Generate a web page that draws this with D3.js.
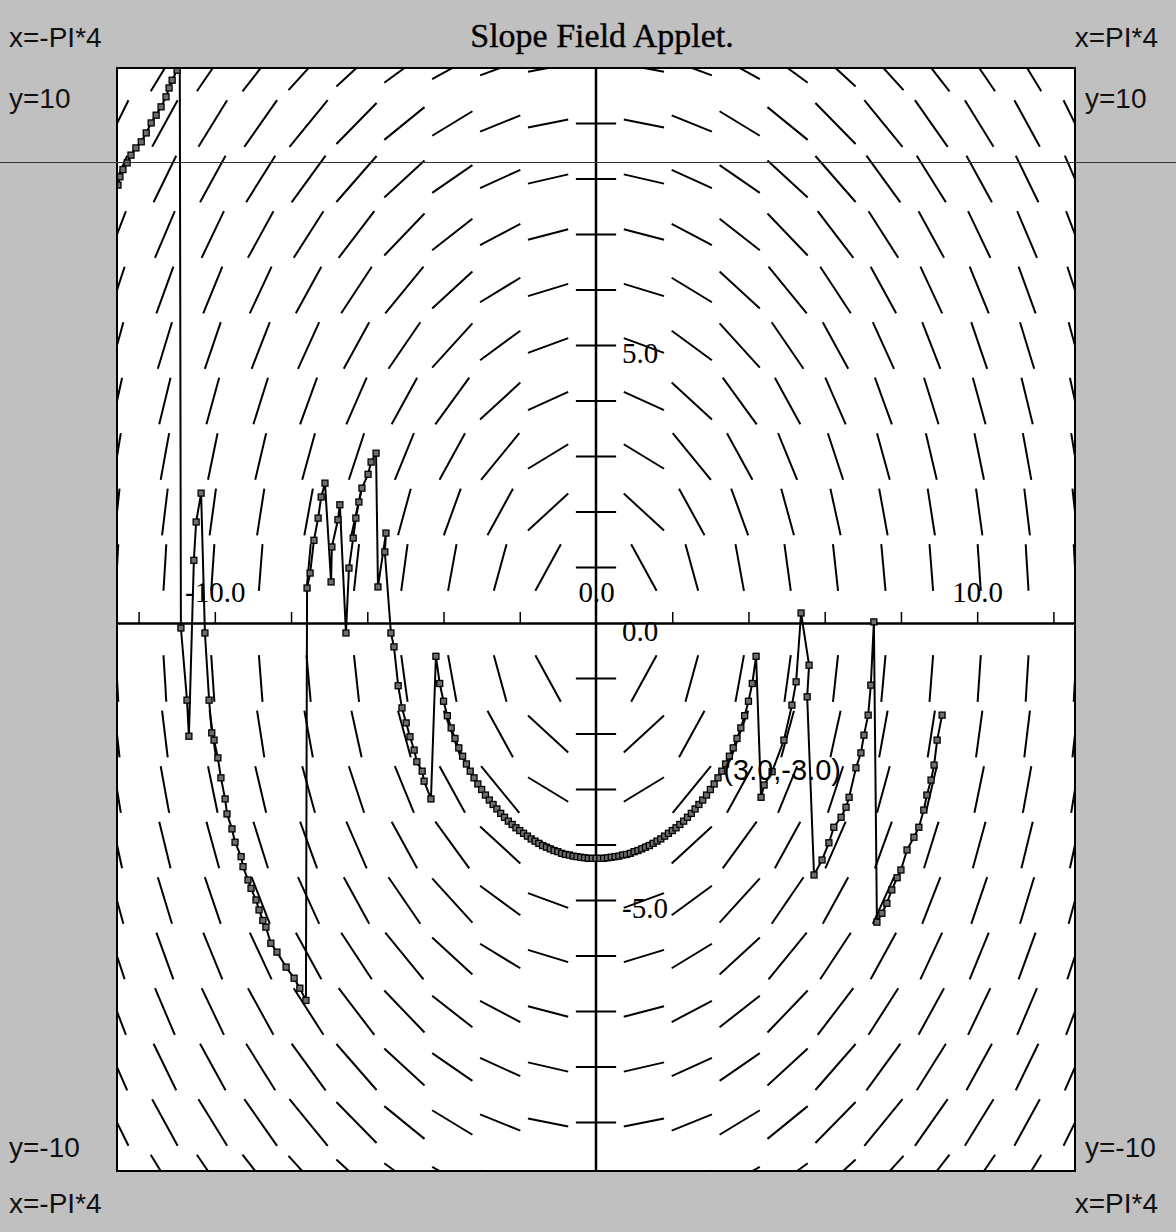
<!DOCTYPE html>
<html>

<head>
  <meta charset='utf-8'>
  <style>
    body { margin: 0; background: #c0c0c0; }
    svg { display: block; }
  </style>
  <script src='https://cdn.jsdelivr.net/npm/d3@7'></script>
</head>

<body>

  <script>

    let [width, height] = [1176, 1232]
    let PI = Math.PI

    // slope field dy/dx = -x/y, columns in steps of 0.4*PI, rows in whole units
    const fieldCols = [-10, -9, -8, -7, -6, -5, -4, -3, -2, -1, 0, 1, 2, 3, 4, 5, 6, 7, 8, 9, 10]
    const fieldRows = [-10, -9, -8, -7, -6, -5, -4, -3, -2, -1, 1, 2, 3, 4, 5, 6, 7, 8, 9, 10]
    const slope = (x, y) => -x / y

    const xTickVals = [-12, -10, -8, -6, -4, -2, 2, 4, 6, 8, 10, 12]
    const xLabelVals = [-10, 0, 10]
    const yLabelVals = [-5, 0, 5]

    const start = [3, -3]
    const startLabel = '(3.0,-3.0)'

    // solver output (left part, leaving the plot at top left)
    const leftBranch = [
      [-12.54, 7.89], [-12.49, 8.04], [-12.41, 8.17], [-12.30, 8.29], [-12.20, 8.43], [-12.07, 8.56],
      [-11.93, 8.67], [-11.80, 8.83], [-11.67, 9.01], [-11.54, 9.15], [-11.41, 9.30], [-11.28, 9.48],
      [-11.20, 9.64], [-11.12, 9.78], [-10.99, 9.96], [-10.92, 10.25],
      [-10.89, -0.09], [-10.73, -1.39], [-10.68, -2.04], [-10.55, 1.13], [-10.49, 1.82], [-10.36, 2.34],
      [-10.26, -0.18], [-10.15, -1.39], [-10.08, -1.98], [-10.02, -2.11],
      [-9.92, -2.43], [-9.84, -2.79], [-9.73, -3.17], [-9.68, -3.44], [-9.55, -3.71], [-9.47, -3.95],
      [-9.31, -4.21], [-9.26, -4.39], [-9.13, -4.63], [-9.05, -4.78], [-8.92, -4.99], [-8.84, -5.17],
      [-8.74, -5.36], [-8.66, -5.48], [-8.53, -5.77], [-8.37, -5.93], [-8.13, -6.20], [-7.92, -6.40],
      [-7.77, -6.58], [-7.61, -6.80],
      [-7.58, 0.63], [-7.50, 0.90], [-7.40, 1.49], [-7.29, 1.89], [-7.21, 2.27], [-7.11, 2.52],
      [-6.95, 0.74], [-6.93, 1.37], [-6.77, 1.86], [-6.72, 2.13], [-6.56, -0.18],
      [-6.48, 0.99], [-6.37, 1.53], [-6.30, 1.89], [-6.22, 2.18], [-6.14, 2.43], [-5.98, 2.68],
      [-5.90, 2.90], [-5.77, 3.06], [-5.72, 0.65], [-5.51, 1.62], [-5.54, 1.28], [-5.38, -0.18],
      [-5.30, -0.43], [-5.19, -1.13], [-5.09, -1.53], [-4.98, -1.80], [-4.88, -2.05], [-4.77, -2.29],
      [-4.70, -2.50], [-4.56, -2.67], [-4.51, -2.85], [-4.33, -3.17]
    ]

    // the smooth, densely marked arc through the start point
    const centralArc = [
      [-4.2, -0.60], [-4.1, -1.09], [-4.0, -1.41], [-3.9, -1.67], [-3.8, -1.89], [-3.7, -2.08],
      [-3.6, -2.25], [-3.5, -2.40], [-3.4, -2.54], [-3.3, -2.67], [-3.2, -2.79], [-3.1, -2.90],
      [-3.0, -3.00], [-2.9, -3.10], [-2.8, -3.19], [-2.7, -3.27], [-2.6, -3.35], [-2.5, -3.43],
      [-2.4, -3.50], [-2.3, -3.57], [-2.2, -3.63], [-2.1, -3.69], [-2.0, -3.74], [-1.9, -3.79],
      [-1.8, -3.84], [-1.7, -3.89], [-1.6, -3.93], [-1.5, -3.97], [-1.4, -4.01], [-1.3, -4.04],
      [-1.2, -4.07], [-1.1, -4.10], [-1.0, -4.12], [-0.9, -4.15], [-0.8, -4.17], [-0.7, -4.18],
      [-0.6, -4.20], [-0.5, -4.21], [-0.4, -4.22], [-0.3, -4.23], [-0.2, -4.24], [-0.1, -4.24],
      [0.0, -4.24], [0.1, -4.24], [0.2, -4.24], [0.3, -4.23], [0.4, -4.22], [0.5, -4.21],
      [0.6, -4.20], [0.7, -4.18], [0.8, -4.17], [0.9, -4.15], [1.0, -4.12], [1.1, -4.10],
      [1.2, -4.07], [1.3, -4.04], [1.4, -4.01], [1.5, -3.97], [1.6, -3.93], [1.7, -3.89],
      [1.8, -3.84], [1.9, -3.79], [2.0, -3.74], [2.1, -3.69], [2.2, -3.63], [2.3, -3.57],
      [2.4, -3.50], [2.5, -3.43], [2.6, -3.35], [2.7, -3.27], [2.8, -3.19], [2.9, -3.10],
      [3.0, -3.00], [3.1, -2.90], [3.2, -2.79], [3.3, -2.67], [3.4, -2.54], [3.5, -2.40],
      [3.6, -2.25], [3.7, -2.08], [3.8, -1.89], [3.9, -1.67], [4.0, -1.41], [4.1, -1.09], [4.2, -0.60]
    ]

    const rightBranch = [
      [4.33, -3.14], [4.41, -2.92], [4.62, -2.68], [4.93, -2.11], [5.14, -1.48], [5.25, -1.06],
      [5.38, 0.18], [5.59, -0.76], [5.54, -1.33],
      [5.72, -4.54], [5.93, -4.27], [6.11, -3.96], [6.24, -3.68], [6.43, -3.50], [6.56, -3.32],
      [6.64, -3.14], [6.82, -2.61], [6.95, -2.34], [7.03, -2.02], [7.14, -1.66], [7.21, -1.12], [7.29, 0.02],
      [7.37, -5.39], [7.50, -5.23], [7.63, -5.05], [7.76, -4.81], [7.90, -4.59], [8.00, -4.45],
      [8.16, -4.09], [8.34, -3.86], [8.47, -3.68], [8.60, -3.37], [8.68, -3.10], [8.79, -2.83],
      [8.87, -2.56], [8.95, -2.11], [9.08, -1.66]
    ]

    const solution = leftBranch.concat(centralArc, rightBranch)

    let plot = { left: 117, top: 68, right: 1075, bottom: 1171 }
    let x = d3.scaleLinear([-4 * PI, 4 * PI], [plot.left, plot.right])
    let y = d3.scaleLinear([-10, 10], [1178, plot.top])

    let svg = d3.select('body')
      .append('svg')
      .attr('width', width)
      .attr('height', height)

    svg.append('rect')
      .attr('width', width)
      .attr('height', height)
      .attr('fill', '#c0c0c0')

    svg.append('clipPath')
      .attr('id', 'clip')
      .append('rect')
      .attr('x', plot.left)
      .attr('y', plot.top)
      .attr('width', plot.right - plot.left)
      .attr('height', plot.bottom - plot.top)

    svg.append('rect')
      .attr('x', plot.left)
      .attr('y', plot.top)
      .attr('width', plot.right - plot.left)
      .attr('height', plot.bottom - plot.top)
      .attr('fill', '#fff')

    let inner = svg.append('g').attr('clip-path', 'url(#clip)')

    // slope segments, each clipped to a box a bit smaller than its cell
    let pxPerX = x(1) - x(0)
    let pxPerY = y(0) - y(1)
    let hw = 0.42 * (x(0.4 * PI) - x(0))
    let hh = 0.42 * pxPerY
    let field = []
    fieldRows.forEach(r => fieldCols.forEach(c => {
      let cx = c * 0.4 * PI
      let s = slope(cx, r) * pxPerY / pxPerX
      let dx = hw, dy = s * hw
      if (Math.abs(dy) > hh) { dy = hh * Math.sign(s); dx = hh / Math.abs(s) }
      field.push({ px: x(cx), py: y(r), dx, dy })
    }))

    inner.append('g')
      .attr('stroke', '#000')
      .attr('stroke-width', 2)
      .selectAll('line')
      .data(field)
      .enter()
      .append('line')
      .attr('x1', d => d.px - d.dx)
      .attr('y1', d => d.py + d.dy)
      .attr('x2', d => d.px + d.dx)
      .attr('y2', d => d.py - d.dy)

    // axes
    let xAxis = g => g
      .attr('transform', `translate(0,${y(0)})`)
      .call(d3.axisTop(x).tickValues(xTickVals).tickSize(11).tickSizeOuter(0).tickFormat(''))
      .call(g => g.select('.domain').attr('stroke', '#000').attr('stroke-width', 2.5))
      .call(g => g.selectAll('.tick line').attr('stroke', '#000').attr('stroke-width', 1.5))

    let xLabels = g => g
      .attr('transform', `translate(0,${y(0)})`)
      .call(d3.axisTop(x).tickValues(xLabelVals).tickSize(0).tickPadding(21).tickFormat(d => d.toFixed(1)))
      .call(g => g.select('.domain').remove())
      .call(g => g.selectAll('text')
        .attr('fill', '#000')
        .attr('font-family', '"Liberation Serif", "DejaVu Serif", serif')
        .attr('font-size', 29))

    let yLabels = g => g
      .attr('transform', `translate(${x(0)},0)`)
      .call(d3.axisRight(y).tickValues(yLabelVals).tickSize(0).tickPadding(26).tickFormat(d => d.toFixed(1)))
      .call(g => g.select('.domain').remove())
      .call(g => g.selectAll('text')
        .attr('dy', 17)
        .attr('fill', '#000')
        .attr('font-family', '"Liberation Serif", "DejaVu Serif", serif')
        .attr('font-size', 29))

    inner.append('g').call(xAxis)

    inner.append('line')
      .attr('x1', x(0)).attr('x2', x(0))
      .attr('y1', plot.top).attr('y2', plot.bottom)
      .attr('stroke', '#000')
      .attr('stroke-width', 2.5)

    svg.append('g').call(xLabels)
    svg.append('g').call(yLabels)

    // solution curve with square markers
    inner.append('path')
      .datum(solution)
      .attr('fill', 'none')
      .attr('stroke', '#000')
      .attr('stroke-width', 2)
      .attr('stroke-linejoin', 'round')
      .attr('d', d3.line().x(d => x(d[0])).y(d => y(d[1])))

    inner.append('g')
      .selectAll('rect')
      .data(solution)
      .enter()
      .append('rect')
      .attr('x', d => x(d[0]) - 3)
      .attr('y', d => y(d[1]) - 3)
      .attr('width', 6)
      .attr('height', 6)
      .attr('fill', '#6e6e6e')
      .attr('stroke', '#000')
      .attr('stroke-width', 1.3)

    svg.append('text')
      .attr('x', x(start[0]) + 13)
      .attr('y', y(start[1]) - 10)
      .attr('font-family', '"Liberation Sans", Arial, sans-serif')
      .attr('font-size', 29)
      .text(startLabel)

    // plot frame
    svg.append('rect')
      .attr('x', plot.left)
      .attr('y', plot.top)
      .attr('width', plot.right - plot.left)
      .attr('height', plot.bottom - plot.top)
      .attr('fill', 'none')
      .attr('stroke', '#000')
      .attr('stroke-width', 2)

    // title and corner labels
    svg.append('text')
      .attr('x', 602)
      .attr('y', 47)
      .attr('text-anchor', 'middle')
      .attr('font-family', '"Liberation Serif", "DejaVu Serif", serif')
      .attr('font-size', 34)
      .attr('stroke', '#000')
      .attr('stroke-width', 0.4)
      .text('Slope Field Applet.')

    let corners = [
      { t: 'x=-PI*4', x: 9, y: 47, a: 'start' },
      { t: 'y=10', x: 9, y: 108, a: 'start' },
      { t: 'y=-10', x: 9, y: 1157, a: 'start' },
      { t: 'x=-PI*4', x: 9, y: 1213, a: 'start' },
      { t: 'x=PI*4', x: 1158, y: 47, a: 'end' },
      { t: 'y=10', x: 1085, y: 108, a: 'start' },
      { t: 'y=-10', x: 1085, y: 1157, a: 'start' },
      { t: 'x=PI*4', x: 1158, y: 1213, a: 'end' }
    ]
    svg.append('g')
      .attr('font-family', '"Liberation Sans", Arial, sans-serif')
      .attr('font-size', 28)
      .attr('fill', '#111')
      .selectAll('text')
      .data(corners)
      .enter()
      .append('text')
      .attr('x', d => d.x)
      .attr('y', d => d.y)
      .attr('text-anchor', d => d.a)
      .text(d => d.t)

    // thin line running across the whole window
    svg.append('line')
      .attr('x1', 0).attr('x2', width)
      .attr('y1', 162.5).attr('y2', 162.5)
      .attr('stroke', '#333')
      .attr('stroke-width', 1)
  </script>
</body>

</html>
